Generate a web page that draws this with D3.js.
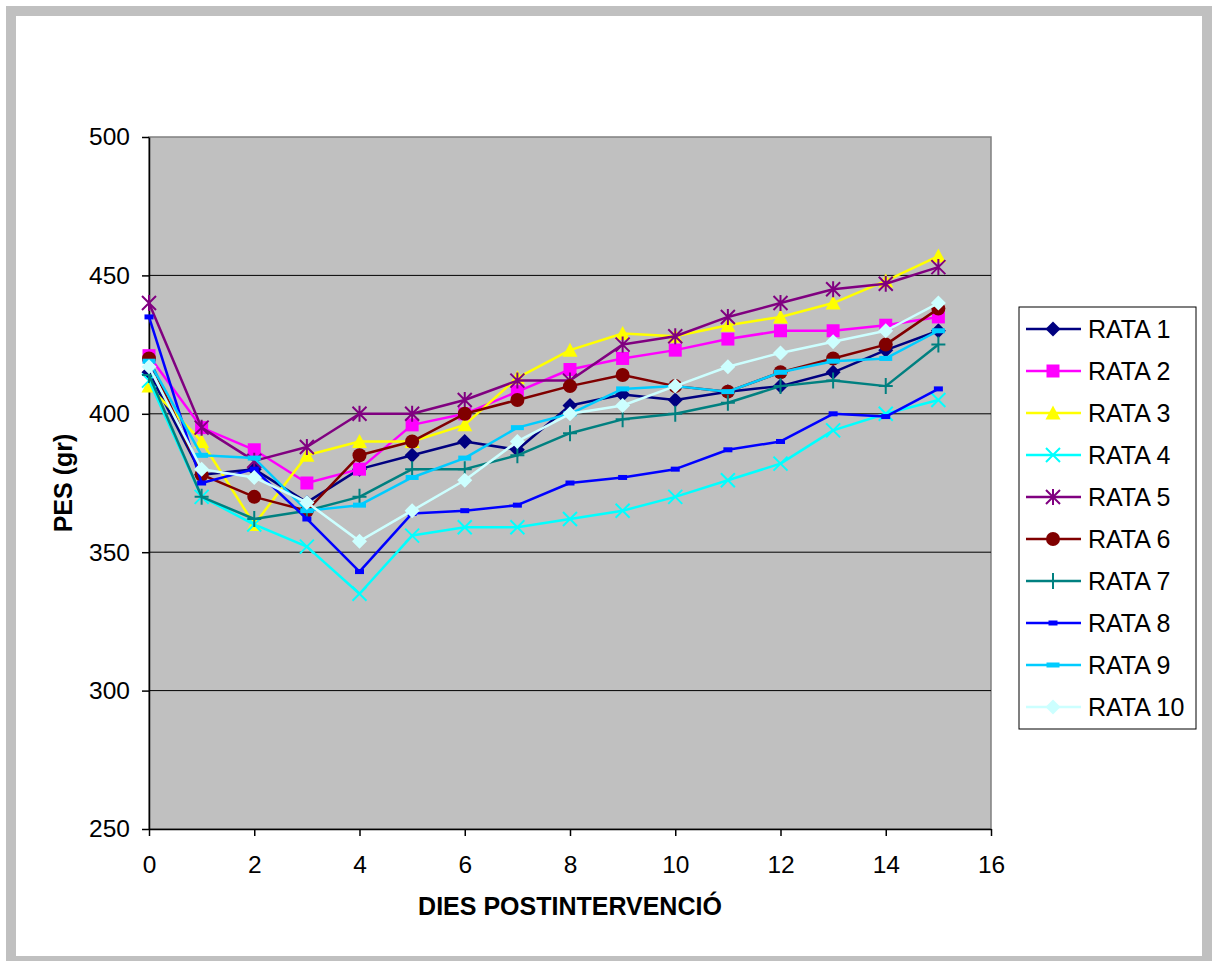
<!DOCTYPE html>
<html>
<head>
<meta charset="utf-8">
<script src="https://cdn.jsdelivr.net/npm/d3@7"></script>
<style>
  body { margin: 0; background: #fff; }
  text { font-family: "Liberation Sans", Arial, sans-serif; fill: #000; }
</style>
</head>
<body>
<div id="chart"></div>
<script>
// Data
const days = [0, 1, 2, 3, 4, 5, 6, 7, 8, 9, 10, 11, 12, 13, 14, 15];
const seriesNames = ["RATA 1", "RATA 2", "RATA 3", "RATA 4", "RATA 5",
  "RATA 6", "RATA 7", "RATA 8", "RATA 9", "RATA 10"];

const rata1 = [415, 378, 380, 368, 380, 385, 390, 387, 403, 407, 405, 408, 410, 415, 423, 430];
const rata2 = [421, 395, 387, 375, 380, 396, 400, 408, 416, 420, 423, 427, 430, 430, 432, 435];
const rata3 = [410, 390, 360, 385, 390, 390, 396, 413, 423, 429, 428, 432, 435, 440, 448, 457];
const rata4 = [412, 370, 360, 352, 335, 356, 359, 359, 362, 365, 370, 376, 382, 394, 400, 405];
const rata5 = [440, 395, 383, 388, 400, 400, 405, 412, 412, 425, 428, 435, 440, 445, 447, 453];
const rata6 = [420, 378, 370, 365, 385, 390, 400, 405, 410, 414, 410, 408, 415, 420, 425, 438];
const rata7 = [414, 370, 362, 365, 370, 380, 380, 385, 393, 398, 400, 404, 410, 412, 410, 425];
const rata8 = [435, 375, 380, 362, 343, 364, 365, 367, 375, 377, 380, 387, 390, 400, 399, 409];
const rata9 = [419, 385, 384, 365, 367, 377, 384, 395, 400, 409, 410, 408, 415, 419, 420, 430];
const rata10 = [417, 380, 377, 368, 354, 365, 376, 390, 400, 403, 410, 417, 422, 426, 430, 440];

const allSeries = [rata1, rata2, rata3, rata4, rata5, rata6, rata7, rata8, rata9, rata10];

const yTicks = [250, 300, 350, 400, 450, 500];
const xTicks = [0, 2, 4, 6, 8, 10, 12, 14, 16];

// Styles (Excel default palette and markers)
const colours = ["#000080", "#FF00FF", "#FFFF00", "#00FFFF", "#800080",
  "#800000", "#008080", "#0000FF", "#00CCFF", "#CCFFFF"];
const markers = ["diamond", "square", "triangle", "x", "star",
  "circle", "plus", "dashSmall", "dashWide", "diamond"];

const width = 1218;
const height = 961;
const plot = { left: 149, right: 991, top: 137, bottom: 829 };

const svg = d3.select("#chart").append("svg")
  .attr("width", width)
  .attr("height", height);

// Outer frame
svg.append("rect")
  .attr("x", 11).attr("y", 11)
  .attr("width", 1196).attr("height", 950)
  .attr("fill", "#fff")
  .attr("stroke", "#C0C0C0")
  .attr("stroke-width", 10);

const xScale = d3.scaleLinear().domain([0, 16]).range([plot.left, plot.right]);
const yScale = d3.scaleLinear().domain([250, 500]).range([plot.bottom, plot.top]);

// Plot area
svg.append("rect")
  .attr("x", plot.left).attr("y", plot.top)
  .attr("width", plot.right - plot.left)
  .attr("height", plot.bottom - plot.top)
  .attr("fill", "#C0C0C0")
  .attr("stroke", "#808080")
  .attr("stroke-width", 1.5);

// Grid lines
svg.append("g")
  .selectAll("line")
  .data(yTicks.filter((d) => d > 250 && d < 500))
  .join("line")
  .attr("x1", plot.left).attr("x2", plot.right)
  .attr("y1", (d) => yScale(d)).attr("y2", (d) => yScale(d))
  .attr("stroke", "#000")
  .attr("stroke-width", 1);

// Axes
const xAxis = d3.axisBottom(xScale).tickValues(xTicks).tickSize(7).tickSizeOuter(0).tickPadding(20);
const yAxis = d3.axisLeft(yScale).tickValues(yTicks).tickSize(7).tickSizeOuter(0).tickPadding(12);

const xAxisG = svg.append("g")
  .attr("transform", `translate(0, ${plot.bottom})`)
  .call(xAxis);
const yAxisG = svg.append("g")
  .attr("transform", `translate(${plot.left}, 0)`)
  .call(yAxis);

for (const g of [xAxisG, yAxisG]) {
  g.selectAll("path, line").attr("stroke", "#000").attr("stroke-width", 1.5);
  g.selectAll("text")
    .attr("font-size", 24.5)
    .attr("font-family", "'Liberation Sans', Arial, sans-serif")
    .attr("fill", "#000");
}
xAxisG.selectAll("text").attr("dy", "0.71em").attr("y", 27);

// Axis titles
svg.append("text")
  .attr("x", (plot.left + plot.right) / 2)
  .attr("y", 915)
  .attr("text-anchor", "middle")
  .attr("font-size", 25)
  .attr("font-weight", "bold")
  .text("DIES POSTINTERVENCIÓ");

svg.append("text")
  .attr("transform", `translate(72, ${(plot.top + plot.bottom) / 2}) rotate(-90)`)
  .attr("text-anchor", "middle")
  .attr("font-size", 25)
  .attr("font-weight", "bold")
  .text("PES (gr)");

// Marker drawing
const drawMarker = (g, type, colour) => {
  if (type === "diamond") {
    g.append("path").attr("d", "M0,-7.5L7.5,0L0,7.5L-7.5,0Z").attr("fill", colour);
  } else if (type === "square") {
    g.append("rect").attr("x", -6.5).attr("y", -6.5).attr("width", 13).attr("height", 13).attr("fill", colour);
  } else if (type === "triangle") {
    g.append("path").attr("d", "M0,-7.5L7.5,6.5L-7.5,6.5Z").attr("fill", colour);
  } else if (type === "circle") {
    g.append("circle").attr("r", 7).attr("fill", colour);
  } else if (type === "dashSmall") {
    g.append("rect").attr("x", -4.5).attr("y", -2.5).attr("width", 9).attr("height", 5).attr("fill", colour);
  } else if (type === "dashWide") {
    g.append("rect").attr("x", -6.5).attr("y", -2.5).attr("width", 13).attr("height", 5).attr("fill", colour);
  } else {
    let d = "";
    if (type === "x" || type === "star") d += "M-7,-7L7,7M-7,7L7,-7";
    if (type === "star") d += "M0,-8L0,8";
    if (type === "plus") d += "M-7,0L7,0M0,-8L0,8";
    g.append("path").attr("d", d).attr("stroke", colour).attr("stroke-width", 2).attr("fill", "none");
  }
};

// Lines and markers
const line = d3.line()
  .x((d, i) => xScale(days[i]))
  .y((d) => yScale(d));

const seriesG = svg.append("g");
allSeries.forEach((values, s) => {
  const g = seriesG.append("g");
  g.append("path")
    .attr("d", line(values))
    .attr("fill", "none")
    .attr("stroke", colours[s])
    .attr("stroke-width", 2.5)
    .attr("stroke-linejoin", "round");
  values.forEach((v, i) => {
    const m = g.append("g").attr("transform", `translate(${xScale(days[i])}, ${yScale(v)})`);
    drawMarker(m, markers[s], colours[s]);
  });
});

// Legend
const legend = svg.append("g");
legend.append("rect")
  .attr("x", 1019).attr("y", 307)
  .attr("width", 177).attr("height", 422)
  .attr("fill", "#fff")
  .attr("stroke", "#000")
  .attr("stroke-width", 1);

const legendY = d3.scalePoint().domain(seriesNames).range([329, 707]);
seriesNames.forEach((name, s) => {
  const y = legendY(name);
  legend.append("line")
    .attr("x1", 1026).attr("x2", 1081)
    .attr("y1", y).attr("y2", y)
    .attr("stroke", colours[s])
    .attr("stroke-width", 2.5);
  const m = legend.append("g").attr("transform", `translate(1053, ${y})`);
  drawMarker(m, markers[s], colours[s]);
  legend.append("text")
    .attr("x", 1088).attr("y", y)
    .attr("dy", "0.35em")
    .attr("font-size", 25)
    .text(name);
});
</script>
</body>
</html>
